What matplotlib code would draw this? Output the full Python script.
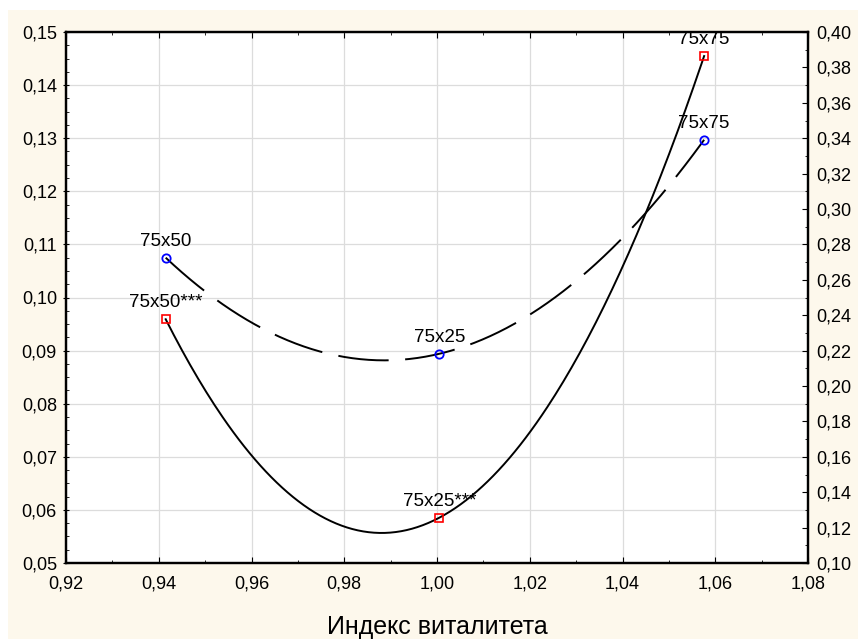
import numpy as np
import matplotlib
matplotlib.use("Agg")
import matplotlib.pyplot as plt
from matplotlib.patches import Rectangle
from matplotlib.ticker import MultipleLocator, FuncFormatter

plt.rcParams['font.family'] = ['Liberation Sans', 'DejaVu Sans']

# vitality index and two response series
vitality = [0.9415, 1.0005, 1.0576]
left_vals = [0.1075, 0.0894, 0.1297]
left_labels = ["75x50", "75x25", "75x75"]
right_vals = [0.2377, 0.1256, 0.3864]
right_labels = ["75x50***", "75x25***", "75x75"]

comma = FuncFormatter(lambda v, pos: f"{v:.2f}".replace(".", ","))

fig = plt.figure(figsize=(8.58, 6.39), dpi=100)
fig.patch.set_facecolor("white")
fig.patches.append(Rectangle((8 / 858, 0), 1, (639 - 10) / 639, transform=fig.transFigure,
                             facecolor="#fdf8ec", edgecolor="none", zorder=-10))

ax = fig.add_axes([66 / 858, 1 - 563 / 639, (808 - 66) / 858, (563 - 32) / 639])
ax.set_facecolor("white")
ax2 = ax.twinx()

ax.set_xlim(0.92, 1.08)
ax.set_ylim(0.05, 0.15)
ax2.set_ylim(0.10, 0.40)

ax.xaxis.set_major_locator(MultipleLocator(0.02))
ax.xaxis.set_minor_locator(MultipleLocator(0.01))
ax.yaxis.set_major_locator(MultipleLocator(0.01))
ax.yaxis.set_minor_locator(MultipleLocator(0.0025))
ax2.yaxis.set_major_locator(MultipleLocator(0.02))
ax2.yaxis.set_minor_locator(MultipleLocator(0.01))
for a in (ax.xaxis, ax.yaxis, ax2.yaxis):
    a.set_major_formatter(comma)

ax.grid(True, color="#dcdcdc", lw=0.9)
ax.set_axisbelow(True)

for a in (ax, ax2):
    for s in a.spines.values():
        s.set_linewidth(1.6)
ax.tick_params(axis="x", which="both", direction="in", top=True, labelsize=13, pad=9)
ax.tick_params(axis="x", which="major", length=4)
ax.tick_params(axis="x", which="minor", length=2.5)
ax.tick_params(axis="y", which="major", direction="inout", length=5, labelsize=13, pad=4)
ax.tick_params(axis="y", which="minor", direction="in", length=2.5)
ax2.tick_params(axis="y", which="major", direction="in", length=4, labelsize=13, pad=6)
ax2.tick_params(axis="y", which="minor", direction="in", length=2.5)

# quadratic fits through each series
xs = np.linspace(vitality[0], vitality[-1], 200)
fit_left = np.polyval(np.polyfit(vitality, left_vals, 2), xs)
fit_right = np.polyval(np.polyfit(vitality, right_vals, 2), xs)

ax.plot(xs, fit_left, color="black", lw=1.4, dashes=(26, 8.5))
ax.plot(vitality, left_vals, "o", mfc="none", mec="blue", ms=6, mew=1.3)
ax2.plot(xs, fit_right, color="black", lw=1.4)
ax2.plot(vitality, right_vals, "s", mfc="none", mec="red", ms=6, mew=1.2)

for x, y, t in zip(vitality, left_vals, left_labels):
    ax.annotate(t, (x, y), xytext=(0, 8.5), textcoords="offset points",
                ha="center", va="baseline", fontsize=13.5)
for x, y, t in zip(vitality, right_vals, right_labels):
    ax2.annotate(t, (x, y), xytext=(0, 8.5), textcoords="offset points",
                 ha="center", va="baseline", fontsize=13.5)

ax.set_xlabel("Индекс виталитета", fontsize=18, labelpad=16)

fig.savefig("out.png", dpi=100)
